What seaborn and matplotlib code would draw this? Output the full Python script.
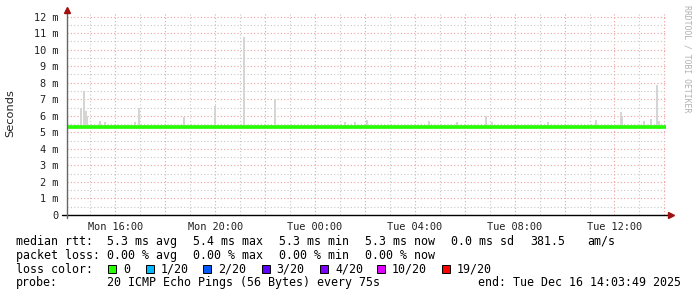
import numpy as np
import pandas as pd
import matplotlib
matplotlib.use("Agg")
import matplotlib.pyplot as plt
import matplotlib.dates as mdates
from matplotlib.ticker import MultipleLocator, FuncFormatter, NullLocator
from matplotlib.patches import Rectangle
import seaborn as sns

# ---------------- data ----------------
start_time = "2025-12-15 14:03:49"
end_time = "2025-12-16 14:03:49"

# median RTT (ms), every 30 minutes
median_ms = [5.33, 5.32, 5.34, 5.33, 5.32, 5.33, 5.33, 5.34, 5.32, 5.33,
             5.33, 5.32, 5.33, 5.34, 5.33, 5.32, 5.31, 5.32, 5.33, 5.33,
             5.32, 5.33, 5.34, 5.33, 5.33, 5.32, 5.33, 5.34, 5.33, 5.32,
             5.33, 5.34, 5.33, 5.33, 5.32, 5.33, 5.34, 5.33, 5.32, 5.33,
             5.33, 5.32, 5.33, 5.34, 5.33, 5.32, 5.33, 5.34, 5.33]

# smoke: spikes of the ping distribution
spike_times = ["2025-12-15 14:38", "2025-12-15 14:45", "2025-12-15 14:49", "2025-12-15 14:52",
               "2025-12-15 15:23", "2025-12-15 15:34", "2025-12-15 16:47", "2025-12-15 16:57",
               "2025-12-15 18:45", "2025-12-15 19:59", "2025-12-15 21:09", "2025-12-15 22:25",
               "2025-12-16 01:11", "2025-12-16 01:35", "2025-12-16 02:04", "2025-12-16 04:35",
               "2025-12-16 05:42", "2025-12-16 06:51", "2025-12-16 07:06", "2025-12-16 09:20",
               "2025-12-16 11:15", "2025-12-16 12:15", "2025-12-16 12:18", "2025-12-16 13:11",
               "2025-12-16 13:28", "2025-12-16 13:41", "2025-12-16 13:47"]
spike_top_ms = [6.5, 7.5, 6.3, 5.9,
                5.7, 5.6, 5.6, 6.5,
                5.9, 6.6, 10.77, 7.03,
                5.65, 5.65, 5.75, 5.7,
                5.65, 6.0, 5.65, 5.65,
                5.75, 6.26, 5.96, 5.7,
                5.8, 7.84, 5.7]
smoke_low_ms = 5.2
smoke_band_top_ms = 5.45

loss_labels = ["0", "1/20", "2/20", "3/20", "4/20", "10/20", "19/20"]
loss_colors = ["#26ff00", "#00b8ff", "#0059ff", "#5e00ff", "#7e00ff", "#dd00ff", "#ff0000"]

line1 = ["median rtt:", "5.3 ms avg", "5.4 ms max", "5.3 ms min", "5.3 ms now", "0.0 ms sd", "381.5", "am/s"]
line2 = ["packet loss:", "0.00 % avg", "0.00 % max", "0.00 % min", "0.00 % now"]
probe_text = "20 ICMP Echo Pings (56 Bytes) every 75s"
end_text = "end: Tue Dec 16 14:03:49 2025"

# ---------------- figure ----------------
sns.set_theme(style="white")
plt.rcParams["font.family"] = ["DejaVu Sans Mono", "DejaVu Sans"]

W, H = 697, 297
fig = plt.figure(figsize=(W / 100, H / 100), dpi=100, facecolor="white")
L, R, B, T = 67, 666, 215, 13
ax = fig.add_axes([L / W, 1 - B / H, (R - L) / W, (B - T) / H])
ax.set_facecolor("white")

t0 = pd.Timestamp(start_time)
t1 = pd.Timestamp(end_time)
med_times = pd.date_range(t0, t1, periods=len(median_ms))
df = pd.DataFrame({"time": med_times, "median": median_ms})

# smoke base band
ax.fill_between(df["time"], smoke_low_ms, smoke_band_top_ms, color="#dcdcdc", lw=0, zorder=2)
# smoke spikes
ax.vlines(pd.to_datetime(spike_times), smoke_low_ms, spike_top_ms, color="#d4d4d4", lw=1.4, zorder=2)

# median line
sns.lineplot(data=df, x="time", y="median", ax=ax, color=loss_colors[0], lw=2.6,
             drawstyle="steps-post", zorder=4)

ax.set_xlim(t0, t1)
ax.set_ylim(0, (B - T) / 16.53)

# grids
ax.xaxis.set_major_locator(mdates.HourLocator(interval=2))
ax.xaxis.set_minor_locator(mdates.HourLocator())
def xfmt(v, pos):
    d = mdates.num2date(v)
    return d.strftime("%a %H:%M") if d.hour % 4 == 0 else ""
ax.xaxis.set_major_formatter(FuncFormatter(xfmt))
ax.yaxis.set_major_locator(MultipleLocator(1))
ax.yaxis.set_minor_locator(MultipleLocator(0.5))
ax.yaxis.set_major_formatter(FuncFormatter(lambda v, p: "0" if abs(v) < 1e-9 else f"{int(round(v))} m"))

ax.grid(which="major", color="#f0a0a0", ls=(0, (1, 2)), lw=0.8, zorder=1)
ax.grid(which="minor", color="#c8c8c8", ls=(0, (1, 2)), lw=0.8, zorder=1)
ax.set_axisbelow(True)

ax.tick_params(axis="both", which="both", length=0, labelsize=7.4, colors="#222222")
ax.tick_params(axis="x", pad=5)
ax.tick_params(axis="y", pad=6)
ax.set_xlabel("")
ax.set_ylabel("")

for s in ax.spines.values():
    s.set_visible(False)

# axes lines with arrows
ax.plot([-5 / 599, 604 / 599], [0, 0], transform=ax.transAxes, color="black", lw=1.0, clip_on=False, zorder=6)
ax.plot([0, 0], [-3 / 202, 203 / 202], transform=ax.transAxes, color="#666666", lw=1.0, clip_on=False, zorder=6)
ax.plot([604 / 599], [0], transform=ax.transAxes, marker=">", ms=4.5, color="#a01010", mec="#a01010",
        clip_on=False, zorder=7)
ax.plot([0], [205 / 202], transform=ax.transAxes, marker="^", ms=4.5, color="#a01010", mec="#a01010",
        clip_on=False, zorder=7)

# y label
fig.text(10 / W, 1 - 113 / H, "Seconds", rotation=90, ha="center", va="center",
         fontsize=8.2, family="DejaVu Sans", color="#222222")
# watermark
fig.text(687 / W, 1 - 59 / H, "RRDTOOL / TOBI OETIKER", rotation=270, ha="center", va="center",
         fontsize=5.9, color="#b0b0b0")

# legend lines
fs = 8.4
def put(x, y, s):
    fig.text(x / W, 1 - y / H, s, ha="left", va="center", fontsize=fs, color="black")

y1, y2, y3, y4 = 241.5, 255.3, 269.3, 282.9
for x, s in zip([16, 107, 193, 279, 365, 451, 530, 587], line1):
    put(x, y1, s)
for x, s in zip([16, 107, 193, 279, 365], line2):
    put(x, y2, s)
put(16, y3, "loss color:")
box_x = [108, 145.5, 203, 261.5, 320, 376.5, 441.5]
for bx, lab, col in zip(box_x, loss_labels, loss_colors):
    fig.patches.append(Rectangle((bx / W, 1 - (y3 + 4) / H), 8 / W, 8 / H, transform=fig.transFigure,
                                 facecolor=col, edgecolor="black", lw=0.7))
    put(bx + 15, y3, lab)
put(16, y4, "probe:")
put(107, y4, probe_text)
put(478, y4, end_text)

fig.savefig("out.png", dpi=100, facecolor="white")
